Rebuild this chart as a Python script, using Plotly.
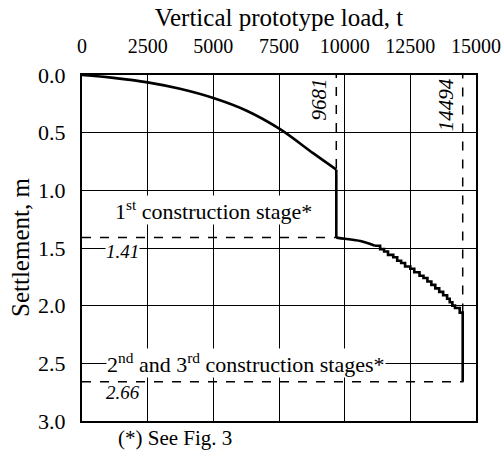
import plotly.graph_objects as go

# stage 1: smooth loading curve, then creep at constant load
stage1_load = [0, 1200, 2500, 3730, 5000, 6270, 7540, 8810, 9681]
stage1_settle = [0, 0.025, 0.064, 0.12, 0.20, 0.31, 0.47, 0.68, 0.82]
creep1_load = [9681, 9681]
creep1_settle = [0.82, 1.41]

# stage 2: start of the second loading
stage2_load = [9681, 10013, 10600, 11150]
stage2_settle = [1.41, 1.42, 1.44, 1.48]

# stage 2/3: stepped part of the curve
steps_load = [11150, 11350, 11500, 11650, 11850, 12000, 12150, 12300, 12500, 12650,
              12850, 13000, 13150, 13300, 13450, 13600, 13750, 13900, 14000, 14100,
              14200, 14380, 14494, 14494]
steps_settle = [1.48, 1.51, 1.53, 1.56, 1.58, 1.61, 1.63, 1.66, 1.68, 1.71,
                1.74, 1.76, 1.79, 1.82, 1.85, 1.88, 1.91, 1.94, 1.97, 2.00,
                2.02, 2.06, 2.10, 2.66]

load_marks = [9681, 14494]
stage_settle = [1.41, 2.66]

x_ticks = [0, 2500, 5000, 7500, 10000, 12500, 15000]
x_ticktext = ["0", "2500", "5000", "7500", "10000", "12500", "15000"]
y_ticks = [0.0, 0.5, 1.0, 1.5, 2.0, 2.5, 3.0]

SERIF = "Liberation Serif"
fig = go.Figure()

# dashed guide lines
dash = dict(color="black", width=1.5, dash="dash")
fig.add_trace(go.Scatter(x=[0, load_marks[0], load_marks[0]], y=[stage_settle[0], stage_settle[0], 0],
                         mode="lines", line=dash, showlegend=False, hoverinfo="skip"))
fig.add_trace(go.Scatter(x=[0, load_marks[1], load_marks[1]], y=[stage_settle[1], stage_settle[1], 0],
                         mode="lines", line=dash, showlegend=False, hoverinfo="skip"))

curve = dict(color="black", width=2.6)
fig.add_trace(go.Scatter(x=stage1_load, y=stage1_settle, mode="lines",
                         line=dict(curve, shape="spline"), showlegend=False))
fig.add_trace(go.Scatter(x=creep1_load, y=creep1_settle, mode="lines", line=curve, showlegend=False))
fig.add_trace(go.Scatter(x=stage2_load, y=stage2_settle, mode="lines",
                         line=dict(curve, shape="spline"), showlegend=False))
fig.add_trace(go.Scatter(x=steps_load, y=steps_settle, mode="lines", line=dict(curve, shape="hv"),
                         showlegend=False))

txt = dict(family=SERIF, size=22, color="black")
ital = dict(family=SERIF, size=19, color="black", style="italic")
ital_v = dict(family=SERIF, size=21, color="black", style="italic")

fig.add_annotation(x=5000, y=1.17, text="1<sup>st</sup> construction stage*", showarrow=False,
                   font=txt, bgcolor="white", borderpad=0)
fig.add_annotation(x=6230, y=2.5, text="2<sup>nd</sup> and 3<sup>rd</sup> construction stages*",
                   showarrow=False, font=txt, bgcolor="white", borderpad=0)
fig.add_annotation(x=1530, y=1.53, text=str(stage_settle[0]), showarrow=False, font=ital,
                   bgcolor="white", borderpad=0)
fig.add_annotation(x=1560, y=2.75, text=str(stage_settle[1]), showarrow=False, font=ital)
fig.add_annotation(x=load_marks[0], y=0.01, text=str(load_marks[0]), textangle=-90,
                   showarrow=False, font=ital_v, xanchor="right", yanchor="top", xshift=-3)
fig.add_annotation(x=load_marks[1], y=0.01, text=str(load_marks[1]), textangle=-90,
                   showarrow=False, font=ital_v, xanchor="right", yanchor="top", xshift=-3)
fig.add_annotation(x=0.236, y=-0.09, xref="paper", yref="paper", text="(*) See Fig. 3",
                   showarrow=False, xanchor="center", font=dict(family=SERIF, size=21, color="black"))
# y axis title placed by hand so it sits near the left edge like the original
fig.add_annotation(x=0, y=0.5, xref="paper", yref="paper", text="Settlement, m", textangle=-90,
                   showarrow=False, xanchor="center", xshift=-62,
                   font=dict(family=SERIF, size=25, color="black"))

axis = dict(showline=True, linecolor="black", linewidth=2, mirror=True,
            showgrid=True, gridcolor="black", gridwidth=1.3, zeroline=False,
            ticks="", ticklabeloverflow="allow", automargin=False)

fig.update_xaxes(axis, side="top", range=[0, 15000], tickvals=x_ticks, ticktext=x_ticktext,
                 ticklabelstandoff=12, tickfont=dict(family=SERIF, size=20, color="black"),
                 title=dict(text="Vertical prototype load, t", standoff=1,
                            font=dict(family=SERIF, size=25, color="black")))
fig.update_yaxes(axis, range=[3.0, 0], tickvals=y_ticks, tickformat=".1f",
                 ticklabelstandoff=10, tickfont=dict(family=SERIF, size=22, color="black"))

fig.update_layout(width=502, height=453, margin=dict(l=82, r=26, t=75, b=32),
                  plot_bgcolor="white", paper_bgcolor="white")

# drop the browser's default 8px body margin so the figure fills the window exactly
fig.write_html("out.html", config={"displayModeBar": False},
               post_script="document.body.style.margin='0';")
